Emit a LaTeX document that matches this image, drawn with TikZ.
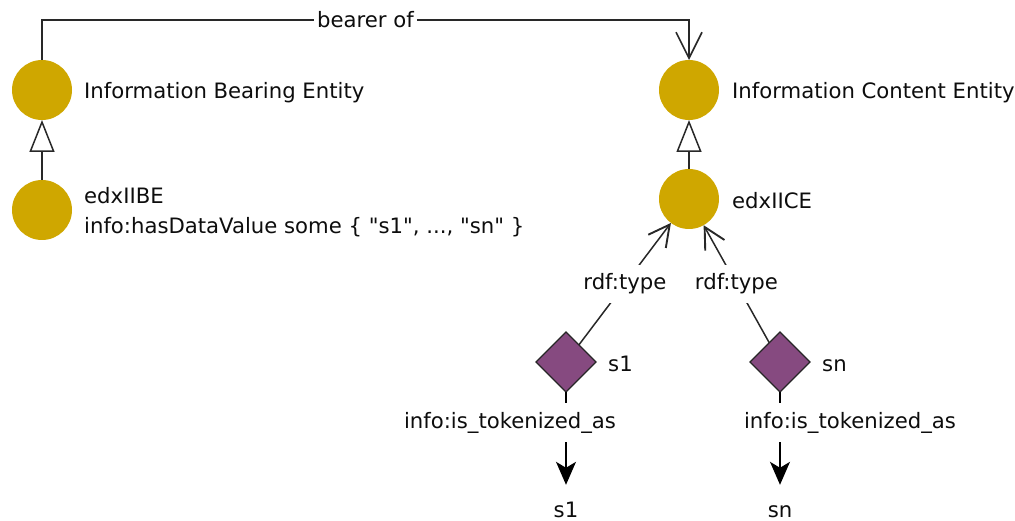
\documentclass[tikz,border=0pt]{standalone}
\usepackage{fontspec}
\setmainfont{DejaVu Sans}[Ligatures=TeXOff]
\usetikzlibrary{arrows.meta,shapes.geometric}
\definecolor{classgold}{RGB}{207,167,0}
\definecolor{indivpurple}{RGB}{134,74,128}
\definecolor{edgegray}{RGB}{40,40,40}

\begin{document}
\begin{tikzpicture}[x=1pt,y=-1pt,
  every node/.style={font=\fontsize{21.2}{30}\selectfont, text=black!95},
  cls/.style={circle, fill=classgold, minimum size=60pt, inner sep=0pt, outer sep=0pt},
  indiv/.style={diamond, fill=indivpurple, draw=black!85, line width=1.4pt,
                minimum size=60pt, inner sep=0pt, outer sep=0pt},
  txt/.style={inner sep=0pt, anchor=base west},
  valuetxt/.style={inner sep=0pt, anchor=base, text height=15.5pt, text depth=0pt},
  rel/.style={line width=1.5pt, draw=edgegray},
  lbl/.style={fill=white, inner xsep=3pt, inner ysep=9pt},
  subclassof/.style={rel, -{Triangle[open, length=32pt, width=25pt, line width=1.5pt]}},
  bearerarrow/.style={rel, -{Straight Barb[length=26pt, width=26pt, line width=1.6pt]}},
  typearrow/.style={rel, -{Straight Barb[length=21pt, width=22pt, line width=1.9pt]}},
  tokarrow/.style={rel, draw=black, -{Stealth[length=23pt, width=20pt, inset=6pt]}},
]
\useasboundingbox (0,0) rectangle (1015,521);

% classes
\node[cls] (ibe)  at (42,90)  {};
\node[cls] (ice)  at (689,90) {};
\node[cls] (ibei) at (42,210) {};
\node[cls] (icei) at (689,199) {};

% individuals and their values
\node[indiv] (s1) at (566,362) {};
\node[indiv] (sn) at (780,362) {};
\node[valuetxt] (v1) at (566,517) {s1};
\node[valuetxt] (vn) at (780,517) {sn};

% names beside the shapes
\node[txt] (ibet) at (84,98.5)  {Information Bearing Entity};
\node[txt] (icet) at (732,98.5) {Information Content Entity};
\node[inner sep=0pt, anchor=north west, align=left] (ibeit) at (84,187)
  {edxIIBE\\info:hasDataValue some \{ "s1", ..., "sn" \}};
\node[txt] (iceit) at (732,209)  {edxIICE};
\node[txt] (s1t)   at (608,371.5) {s1};
\node[txt] (snt)   at (822,371.5) {sn};

% relations
\draw[bearerarrow] (ibe.north) -- ++(0,-40) -|
  node[pos=0.25, fill=white, inner xsep=3pt, inner ysep=2pt] (bl) {bearer of} (ice.north);
\draw[subclassof] (ibei) -- (ibe);
\draw[subclassof] (icei) -- (ice);
\draw[typearrow] (s1) -- node[lbl] (t1) {rdf:type} (icei);
\draw[typearrow] (sn) -- node[lbl] (t2) {rdf:type} (icei);
\draw[tokarrow, shorten >=16.5pt] (s1.south) --
  node[lbl, pos=0.279, xshift=-56pt] (k1) {info:is\_tokenized\_as} (v1.north);
\draw[tokarrow, shorten >=16.5pt] (sn.south) --
  node[lbl, pos=0.279, xshift=70pt] (k2) {info:is\_tokenized\_as} (vn.north);
\end{tikzpicture}
\end{document}
